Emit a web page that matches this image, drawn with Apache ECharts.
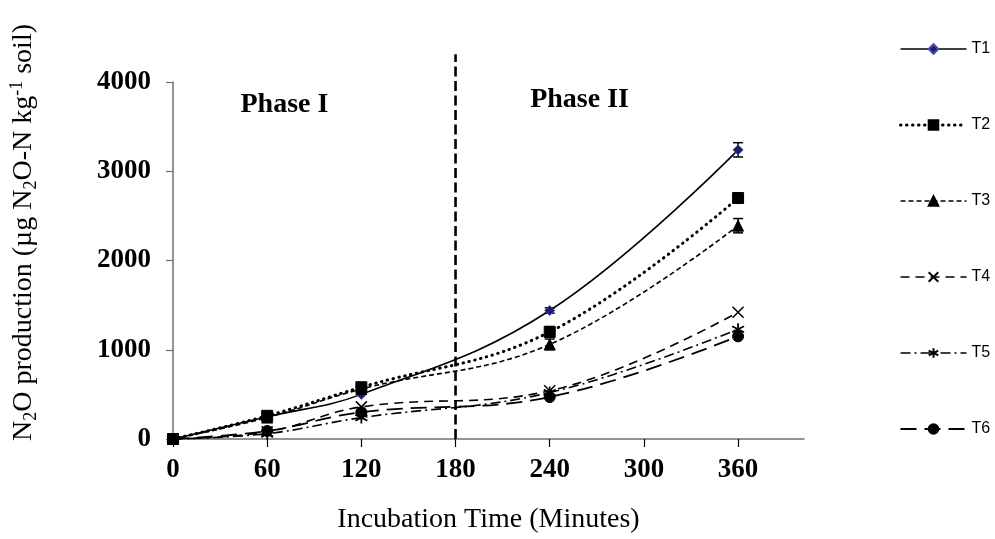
<!DOCTYPE html>
<html>
<head>
<meta charset="utf-8">
<script src="https://cdn.jsdelivr.net/npm/echarts@6/dist/echarts.min.js"></script>
<style>
	html, body { margin: 0; padding: 0; background: #fff; }
	#chart { width: 995px; height: 539px; }
</style>
</head>
<body>
<div id="chart"></div>
<script>
// incubation time (minutes)
var times = [0, 60, 120, 240, 360];
var xTicks = [0, 60, 120, 180, 240, 300, 360];
var yTicks = [0, 1000, 2000, 3000, 4000];
var names = ['T1', 'T2', 'T3', 'T4', 'T5', 'T6'];

// N2O production values
var t1 = [0, 250, 500, 1440, 3240];
var t2 = [0, 260, 580, 1200, 2700];
var t3 = [0, 240, 560, 1060, 2390];
var t4 = [0, 80, 360, 540, 1420];
var t5 = [0, 60, 240, 520, 1230];
var t6 = [0, 90, 300, 470, 1150];

// error bar half heights
var e1 = [0, 0, 0, 30, 80];
var e2 = [0, 0, 0, 60, 40];
var e3 = [0, 0, 0, 60, 80];
var e4 = [0, 0, 0, 0, 0];
var e5 = [0, 0, 0, 0, 0];
var e6 = [0, 0, 0, 0, 0];

var phaseSplit = 180;
var phaseTop = 4310;
var phaseNames = ['Phase I', 'Phase II'];
var phaseAt = [[71, 3740], [259, 3800]];

(function() {
	var chart = echarts.init(document.getElementById('chart'));

	var serif = 'Liberation Serif, Times New Roman, serif';
	var values = [t1, t2, t3, t4, t5, t6];
	var errs = [e1, e2, e3, e4, e5, e6];

	var styles = [{
		symbol: 'diamond', size: 10, width: 1.6, type: 'solid',
		fill: '#1c1c6b', border: '#4a4aa8'
	}, {
		symbol: 'rect', size: 11, width: 3, type: [0.5, 5.5], cap: 'round',
		fill: '#000', border: '#000'
	}, {
		symbol: 'triangle', size: 11, width: 1.6, type: [5, 3],
		fill: '#000', border: '#000'
	}, {
		symbol: 'path://M0,0L10,10M10,0L0,10', size: 11, width: 1.6, type: [9, 6],
		fill: 'none', border: '#000', bw: 1.5
	}, {
		symbol: 'path://M5,0L5,10M0.7,2.5L9.3,7.5M9.3,2.5L0.7,7.5', size: 12, width: 1.6, type: [10, 4, 2, 4],
		fill: 'none', border: '#000', bw: 1.8
	}, {
		symbol: 'circle', size: 11, width: 1.8, type: [16, 8],
		fill: '#000', border: '#000'
	}];

	var series = [];
	var legendData = [];
	for (var i = 0; i < names.length; i++) {
		var st = styles[i];
		var data = [];
		for (var j = 0; j < times.length; j++) {
			data.push([times[j], values[i][j]]);
		}
		var ls = {
			color: '#000',
			width: st.width,
			type: st.type,
			cap: st.cap || 'butt'
		};
		series.push({
			name: names[i],
			type: 'line',
			data: data,
			smooth: 0.4,
			symbol: st.symbol,
			symbolSize: st.size,
			showAllSymbol: true,
			z: 3,
			lineStyle: ls,
			itemStyle: {
				color: st.fill,
				borderColor: st.border,
				borderWidth: st.bw || 1
			},
			emphasis: { disabled: true }
		});
		legendData.push({
			name: names[i],
			lineStyle: ls
		});
	}

	// error bars
	var errData = [];
	for (var i = 0; i < values.length; i++) {
		for (var j = 0; j < times.length; j++) {
			if (errs[i][j] > 0) {
				errData.push([times[j], values[i][j] - errs[i][j], values[i][j] + errs[i][j]]);
			}
		}
	}
	series.push({
		type: 'custom',
		silent: true,
		z: 2,
		data: errData,
		renderItem: function(params, api) {
			var lo = api.coord([api.value(0), api.value(1)]);
			var hi = api.coord([api.value(0), api.value(2)]);
			var w = 5;
			var s = { stroke: '#000', lineWidth: 1.5 };
			return {
				type: 'group',
				children: [{
					type: 'line', shape: { x1: lo[0], y1: lo[1], x2: hi[0], y2: hi[1] }, style: s
				}, {
					type: 'line', shape: { x1: lo[0] - w, y1: lo[1], x2: lo[0] + w, y2: lo[1] }, style: s
				}, {
					type: 'line', shape: { x1: hi[0] - w, y1: hi[1], x2: hi[0] + w, y2: hi[1] }, style: s
				}]
			};
		}
	});

	// dashed phase split line
	series.push({
		type: 'custom',
		silent: true,
		clip: false,
		z: 1,
		data: [[phaseSplit, 0, phaseTop]],
		renderItem: function(params, api) {
			var a = api.coord([api.value(0), api.value(1)]);
			var b = api.coord([api.value(0), api.value(2)]);
			return {
				type: 'line',
				shape: { x1: a[0], y1: a[1], x2: b[0], y2: b[1] },
				style: { stroke: '#000', lineWidth: 2.6, lineDash: [10, 4.5] }
			};
		}
	});

	// phase labels
	series.push({
		type: 'scatter',
		silent: true,
		symbolSize: 0,
		itemStyle: { opacity: 1, color: '#000' },
		data: [
			{ value: phaseAt[0], name: phaseNames[0] },
			{ value: phaseAt[1], name: phaseNames[1] }
		],
		label: {
			show: true,
			position: 'inside',
			formatter: '{b}',
			color: '#000',
			opacity: 1,
			fontFamily: serif,
			fontWeight: 'bold',
			fontSize: 28
		}
	});

	var option = {
		animation: false,
		backgroundColor: '#fff',
		grid: {
			left: 169,
			top: 82,
			width: 635,
			height: 360,
			containLabel: false
		},
		legend: {
			data: legendData,
			orient: 'vertical',
			left: 894,
			top: 36,
			itemWidth: 66,
			itemHeight: 12,
			itemGap: 60,
			textStyle: {
				fontFamily: 'Liberation Sans, Arial, sans-serif',
				fontSize: 16,
				color: '#000'
			}
		},
		xAxis: {
			type: 'value',
			min: 0,
			max: 402,
			interval: 60,
			name: 'Incubation Time (Minutes)',
			nameLocation: 'middle',
			nameGap: 67,
			nameTextStyle: {
				fontFamily: serif,
				fontSize: 28,
				color: '#000'
			},
			splitLine: { show: false },
			axisLine: { lineStyle: { color: '#707070', width: 1.5 } },
			axisTick: { length: 8, customValues: xTicks, lineStyle: { color: '#000', width: 1.2 } },
			axisLabel: {
				margin: 18,
				fontFamily: serif,
				fontWeight: 'bold',
				fontSize: 27,
				color: '#000',
				customValues: xTicks,
				formatter: function(v) { return String(v); }
			}
		},
		yAxis: {
			type: 'value',
			min: 0,
			max: 4000,
			interval: 1000,
			name: '{n|N}{s|2}{n|O production (µg N}{s|2}{n|O-N kg}{p|-1}{n| soil)}',
			nameLocation: 'middle',
			nameGap: 133,
			nameRotate: 90,
			nameTextStyle: {
				color: '#000',
				padding: [0, 0, 0, 56],
				rich: {
					n: { fontFamily: serif, fontSize: 28, color: '#000', verticalAlign: 'middle', lineHeight: 32 },
					s: { fontFamily: serif, fontSize: 18, color: '#000', verticalAlign: 'bottom', lineHeight: 32 },
					p: { fontFamily: serif, fontSize: 18, color: '#000', verticalAlign: 'top', lineHeight: 32 }
				}
			},
			splitLine: { show: false },
			axisLine: { show: true, lineStyle: { color: '#707070', width: 1.5 } },
			axisTick: { show: true, length: 7, lineStyle: { color: '#707070', width: 1.2 } },
			axisLabel: {
				margin: 22,
				fontFamily: serif,
				fontWeight: 'bold',
				fontSize: 27,
				color: '#000',
				customValues: yTicks,
				formatter: function(v) { return String(v); }
			}
		},
		series: series
	};

	chart.setOption(option);
})();
</script>
</body>
</html>
